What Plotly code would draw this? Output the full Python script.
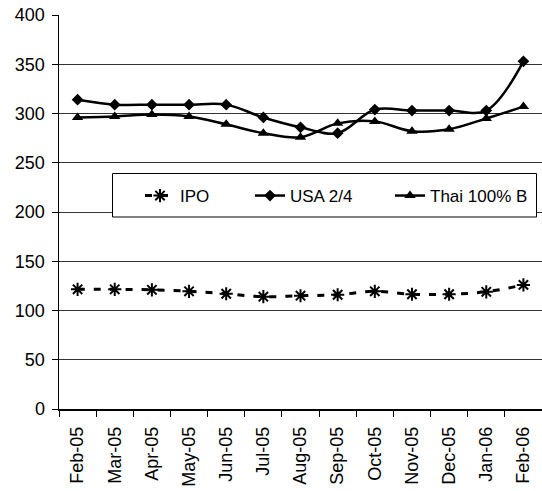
import plotly.graph_objects as go

months = ["Feb-05", "Mar-05", "Apr-05", "May-05", "Jun-05", "Jul-05", "Aug-05",
          "Sep-05", "Oct-05", "Nov-05", "Dec-05", "Jan-06", "Feb-06"]
ipo = [121.5, 121.5, 121, 119.5, 117, 114, 115, 116, 119.5, 116.5, 116.5, 119, 126]
usa = [314, 309, 309, 309, 309, 296, 286, 280, 304, 303, 303, 303, 353]
thai = [296, 297, 299, 297, 289, 280, 276, 290, 292, 282, 284, 295, 307]

FONT = "Arial"

fig = go.Figure()
fig.add_trace(go.Scatter(
    x=months, y=ipo, name="IPO", mode="lines+markers",
    line=dict(color="black", width=3, dash="7px,9px", shape="spline"),
    marker=dict(symbol="asterisk-open", size=11, color="black", line=dict(width=2, color="black")),
    legend="legend", showlegend=True))
fig.add_trace(go.Scatter(
    x=months, y=usa, name="USA 2/4", mode="lines+markers",
    line=dict(color="black", width=2.5, shape="spline"),
    marker=dict(symbol="diamond", size=9, color="black"),
    legend="legend2", showlegend=True))
fig.add_trace(go.Scatter(
    x=months, y=thai, name="Thai 100% B", mode="lines+markers",
    line=dict(color="black", width=2.5, shape="spline"),
    marker=dict(symbol="triangle-up", size=10, color="black"),
    legend="legend3", showlegend=True))

L, T, PW, PH = 59, 15, 483, 394

def px(xp):
    return (xp - L) / PW

def py(yp):
    return (T + PH - yp) / PH

legend_common = dict(orientation="h", bgcolor="rgba(0,0,0,0)", borderwidth=0,
                     font=dict(family=FONT, size=17, color="black"),
                     xanchor="left", yanchor="middle", y=py(196))

fig.update_layout(
    width=542, height=491,
    margin=dict(l=L, r=0, t=T, b=491 - T - PH, autoexpand=False),
    paper_bgcolor="white", plot_bgcolor="white",
    showlegend=True,
    font=dict(family=FONT, size=18, color="black"),
    legend=dict(**legend_common, x=px(140)),
    legend2=dict(**legend_common, x=px(250)),
    legend3=dict(**legend_common, x=px(390)),
    xaxis=dict(
        type="category", range=[-0.5, 12.5], tickson="boundaries",
        ticks="outside", ticklen=6, tickcolor="black", tickangle=-90,
        showline=True, linecolor="black", linewidth=1.5, showgrid=False,
        automargin=False, ticklabelstandoff=9,
        tickfont=dict(family=FONT, size=18, color="black"), fixedrange=True),
    yaxis=dict(
        range=[0, 400], dtick=50, ticks="outside", ticklen=6, tickcolor="black",
        showline=True, linecolor="black", linewidth=1.5, automargin=False,
        ticklabelstandoff=3,
        showgrid=True, gridcolor="#333333", gridwidth=1, zeroline=False,
        tickfont=dict(family=FONT, size=18, color="black")),
    shapes=[dict(type="rect", xref="paper", yref="paper",
                 x0=px(112.5), x1=px(536.5), y0=py(217), y1=py(173.5),
                 line=dict(color="black", width=1), fillcolor="white", layer="above")],
)

fig.write_html("out.html", config={"displayModeBar": False, "staticPlot": True},
               post_script="document.body.style.margin='0';document.body.style.overflow='hidden';")
